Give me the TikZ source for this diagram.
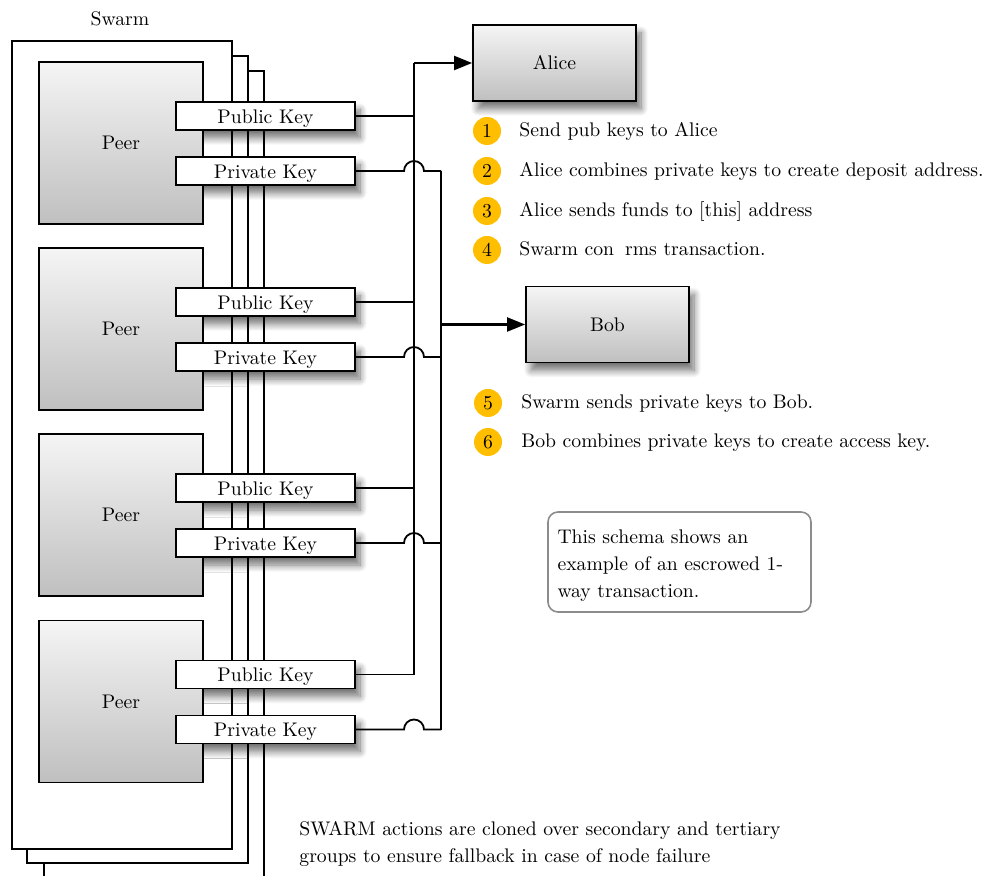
\documentclass[tikz,border=0pt]{standalone}
\usetikzlibrary{positioning, calc, arrows.meta, shadows.blur}
\definecolor{amber}{HTML}{FFBF00}
\definecolor{notegray}{HTML}{8C8C8C}
\tikzset{
  base/.style={draw, line width=0.9pt},
  softshadow/.style={blur shadow={shadow xshift=2.5pt, shadow yshift=-4pt,
      shadow blur radius=3.5pt, shadow opacity=55, shadow blur steps=10}},
  peer/.style={base, minimum width=82pt, minimum height=81pt, top color=gray!8,
      bottom color=gray!50, text height=8.6pt, text depth=2pt},
  keybox/.style={base, fill=white, minimum width=89.5pt, minimum height=14pt,
      inner sep=0pt, text height=9.4pt, text depth=2pt},
  party/.style={peer, softshadow, minimum width=81.5pt, minimum height=38pt},
  stepnum/.style={circle, fill=amber, minimum size=14pt, inner sep=0pt},
  steptext/.style={anchor=base west, inner sep=0pt},
  bus/.style={line width=0.9pt},
  feed/.style={bus, line width=1.1pt, -{Triangle[length=9pt, width=7pt]}},
}

\begin{document}
\begin{tikzpicture}[x=0.5pt, y=-0.5pt, font=\fontsize{9.85}{13.5}\selectfont]
  \useasboundingbox (0,0) rectangle (985,876);

  % swarm groups, back to front
  \node (swarm) at (120,19) {Swarm};
  \draw[base] (44,880) |- (264,71) -- (264,880);
  \draw[base, fill=white] (27,56) rectangle (248,863);
  \draw[base, fill=white] (12,41) rectangle (232,849);

  % peers
  \foreach \i/\y in {1/143, 2/329, 3/515, 4/701.5}
    \node[peer] (peer\i) at (121,\y) {Peer};

  % key shadows, kept off the peers
  \begin{scope}
    \clip (203,0) rectangle (985,876);
    \foreach \y in {143, 329, 515, 701.5} {
      \path[softshadow] (176,\y-41) rectangle (355,\y-13);
      \path[softshadow] (176,\y+14) rectangle (355,\y+42);
    }
  \end{scope}

  % keys
  \foreach \i/\y in {1/143, 2/329, 3/515, 4/701.5} {
    \node[keybox] (pub\i) at (265.5,\y-27) {Public Key};
    \node[keybox] (priv\i) at (265.5,\y+28) {Private Key};
  }

  \node[party] (alice) at (554.5,63) {Alice};
  \node[party] (bob) at (607.5,324.5) {Bob};

  \coordinate (pubtop) at (414,63);
  \coordinate (privtop) at (441,171);

  % public keys go to Alice
  \draw[bus] (pub4.east) -| (pubtop);
  \draw[feed] (pubtop) -- (alice.west);
  \foreach \i in {1,2,3}
    \draw[bus] (pub\i.east) -- (pub\i.east -| pubtop);

  % private keys hop over and go to Bob
  \foreach \i in {1,...,4}
    \draw[bus] (priv\i.east) -- ($(priv\i.east -| pubtop)+(-10,0)$)
      arc[start angle=180, end angle=0, radius=5pt] -- (priv\i.east -| privtop);
  \draw[bus] (privtop) -- (privtop |- priv4.east);
  \draw[feed] (bob.west -| privtop) -- (bob.west);

  % steps
  \foreach \n/\y/\t in {1/131/{Send pub keys to Alice},
      2/171/{Alice combines private keys to create deposit address.},
      3/211/{Alice sends funds to [this] address},
      4/250/{Swarm con\phantom{fi}rms transaction.}} {
    \node[stepnum] (n\n) at (487,\y) {\n};
    \node[steptext] (s\n) at (519,\y+6) {\t};
  }
  \foreach \n/\y/\t in {5/403/{Swarm sends private keys to Bob.},
      6/442/{Bob combines private keys to create access key.}} {
    \node[stepnum] (n\n) at (488,\y) {\n};
    \node[steptext] (s\n) at (521,\y+6) {\t};
  }

  \node[draw=notegray, line width=0.8pt, rounded corners=5pt, minimum width=131.5pt,
    minimum height=50pt, text width=122pt, inner sep=4.5pt, align=left, text height=10.3pt]
    (note) at (679.5,562)
    {This schema shows an\\example of an escrowed 1-\\way transaction.};

  \node[anchor=west, align=left, inner sep=0pt] (fallback) at (299,844)
    {SWARM actions are cloned over secondary and tertiary\\groups to ensure fallback in case of node failure};
\end{tikzpicture}
\end{document}
